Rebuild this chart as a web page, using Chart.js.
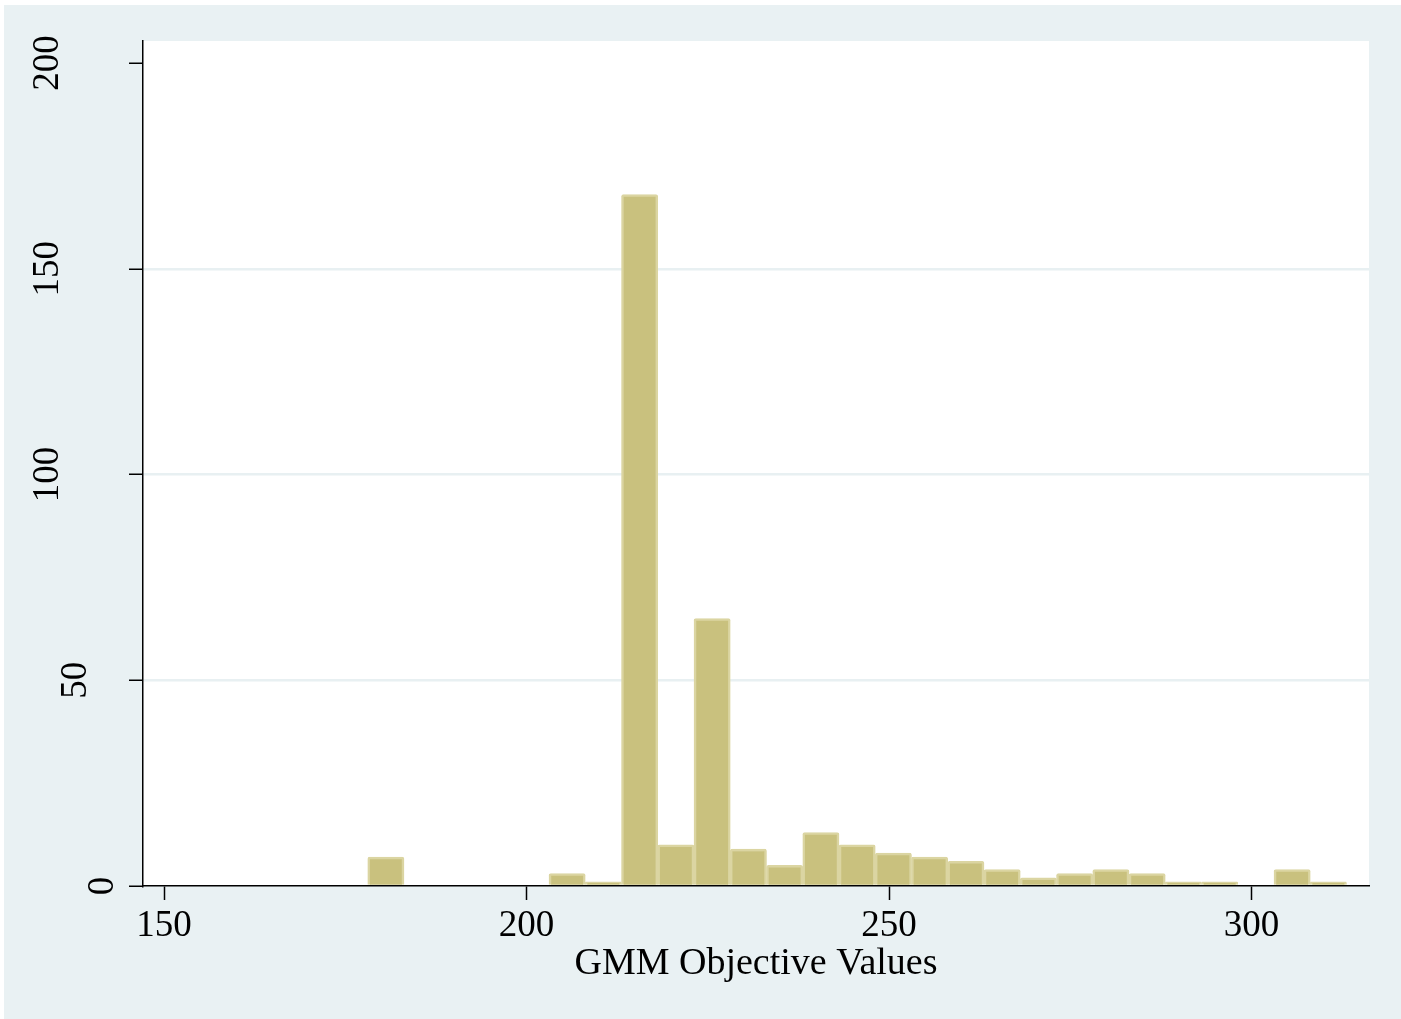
<!DOCTYPE html>
<html>
<head>
<meta charset="utf-8">
<script src="https://cdn.jsdelivr.net/npm/chart.js@4.4.1/dist/chart.umd.min.js"></script>
<style>
html,body{margin:0;padding:0;background:#ffffff;}
canvas{display:block;}
</style>
</head>
<body>
<canvas id="c" width="1401" height="1019"></canvas>
<script>
// Histogram bin midpoints (GMM objective values)
const binCenters = [180.6, 185.6, 190.6, 195.6, 200.6, 205.6, 210.6, 215.6, 220.6, 225.6,
                    230.6, 235.6, 240.6, 245.6, 250.6, 255.6, 260.6, 265.6, 270.6, 275.6,
                    280.6, 285.6, 290.6, 295.6, 300.6, 305.6, 310.6];
// Frequencies per bin
const counts = [7, 0, 0, 0, 0, 3, 1, 168, 10, 65,
                9, 5, 13, 10, 8, 7, 6, 4, 2, 3,
                4, 3, 1, 1, 0, 4, 1];
const xTickValues = [150, 200, 250, 300];
const yTickValues = [0, 50, 100, 150, 200];
const xTitle = 'GMM Objective Values';

const FONT = '"Liberation Serif", "Times New Roman", serif';
const BG = '#e9f1f3';

const bgPlugin = {
  id: 'bg',
  beforeDraw(chart) {
    const ctx = chart.ctx, a = chart.chartArea;
    ctx.save();
    ctx.fillStyle = '#ffffff';
    ctx.fillRect(0, 0, chart.width, chart.height);
    ctx.fillStyle = BG;
    ctx.fillRect(4, 5, chart.width - 4, chart.height - 5);
    ctx.fillStyle = '#ffffff';
    ctx.fillRect(a.left, a.top, a.right - a.left, a.bottom - a.top);
    ctx.restore();
  },
  afterDraw(chart) {
    const ctx = chart.ctx, a = chart.chartArea;
    const xs = chart.scales.x, ys = chart.scales.y;
    ctx.save();
    ctx.fillStyle = '#000000';
    // x tick labels
    ctx.font = '37px ' + FONT;
    ctx.textAlign = 'center';
    ctx.textBaseline = 'alphabetic';
    xTickValues.forEach(v => {
      ctx.fillText(String(v), xs.getPixelForValue(v), 936);
    });
    // y tick labels (rotated)
    yTickValues.forEach(v => {
      const s = String(v);
      const bx = 58 + (3 - s.length) * 27.5;
      ctx.save();
      ctx.translate(bx, ys.getPixelForValue(v));
      ctx.rotate(-Math.PI / 2);
      ctx.textAlign = 'center';
      ctx.textBaseline = 'alphabetic';
      ctx.fillText(s, 0, 0);
      ctx.restore();
    });
    // x axis title
    ctx.font = '38px ' + FONT;
    ctx.textAlign = 'center';
    ctx.fillText(xTitle, (a.left + a.right) / 2, 974);
    ctx.restore();
  }
};

new Chart(document.getElementById('c'), {
  type: 'bar',
  data: {
    datasets: [{
      data: binCenters.map((c, i) => ({x: c, y: counts[i]})),
      backgroundColor: '#c9c17e',
      borderColor: '#dbd5a2',
      borderWidth: 2.5,
      borderRadius: 2,
      barPercentage: 1,
      categoryPercentage: 1
    }]
  },
  options: {
    responsive: false,
    devicePixelRatio: 1,
    animation: false,
    layout: {padding: {top: 41, right: 32, left: 0, bottom: 0}},
    plugins: {legend: {display: false}, tooltip: {enabled: false}},
    scales: {
      x: {
        type: 'linear',
        min: 147.1,
        max: 316.2,
        offset: false,
        afterBuildTicks: s => { s.ticks = xTickValues.map(v => ({value: v})); },
        afterFit: s => { s.height = 133; },
        ticks: {display: false},
        grid: {offset: false, drawOnChartArea: false, drawTicks: true, tickLength: 14, tickColor: '#000', tickWidth: 1.5},
        border: {display: true, color: '#000', width: 1.5}
      },
      y: {
        type: 'linear',
        min: 0,
        max: 205.35,
        afterBuildTicks: s => { s.ticks = yTickValues.map(v => ({value: v})); },
        afterFit: s => { s.width = 143; },
        ticks: {display: false},
        grid: {
          offset: false,
          drawOnChartArea: true,
          drawTicks: true,
          tickLength: 14,
          tickColor: '#000',
          tickWidth: 1.5,
          lineWidth: 2.5,
          color: c => (c.tick && (c.tick.value === 0 || c.tick.value === 200)) ? 'rgba(0,0,0,0)' : '#e8f0f2'
        },
        border: {display: true, color: '#000', width: 1.5}
      }
    }
  },
  plugins: [bgPlugin]
});
</script>
</body>
</html>
